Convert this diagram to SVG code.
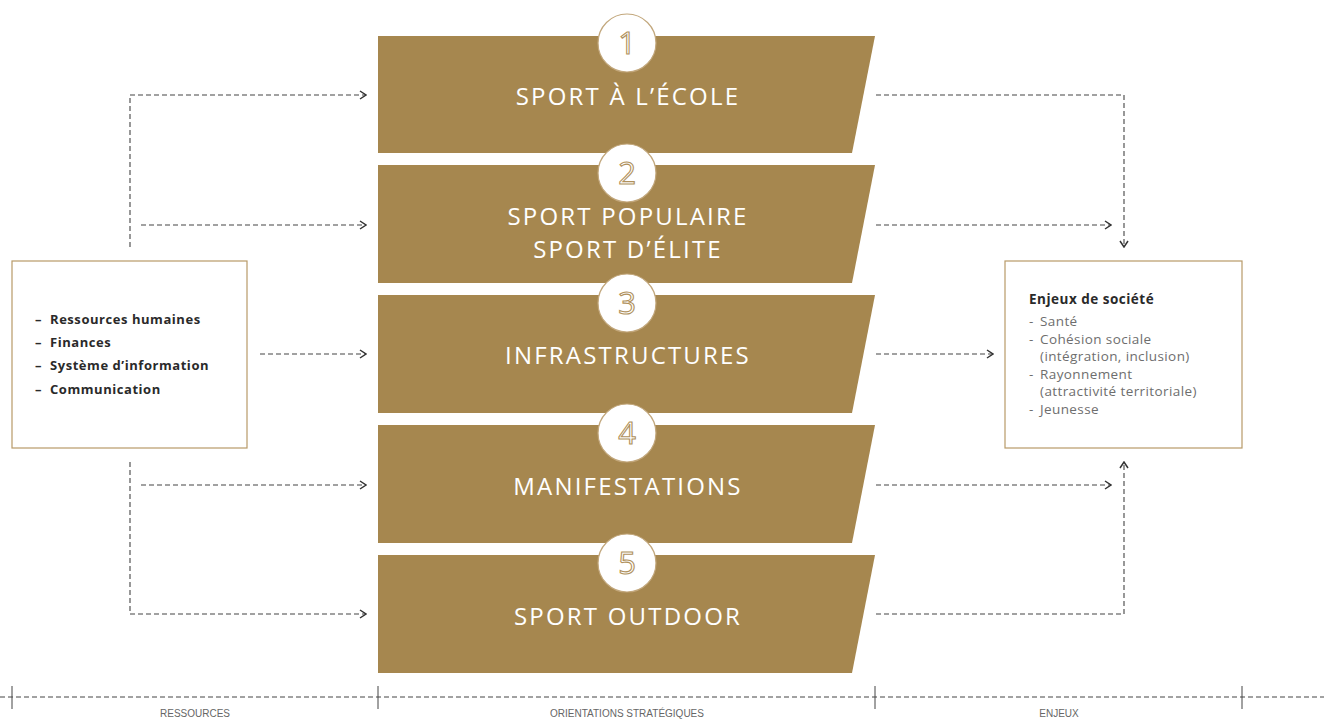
<svg xmlns="http://www.w3.org/2000/svg" width="1324" height="719" viewBox="0 0 1324 719">
<defs>
<style>
.band{fill:#a6874f}
.circ{fill:#fff;stroke:#c2a77c;stroke-width:1.2}
.num{font-family:"Open Sans","Liberation Sans",sans-serif;font-size:31px;fill:#fff;stroke:#b0915c;stroke-width:1.1;text-anchor:middle}
.title{font-family:"Open Sans","Liberation Sans",sans-serif;font-size:24px;fill:#fff;text-anchor:middle;letter-spacing:2.2px}
.box{fill:#fff;stroke:#b89a68;stroke-width:1.2}
.res{font-family:"Open Sans","Liberation Sans",sans-serif;font-size:13px;font-weight:bold;fill:#2a2a2a;letter-spacing:0.55px}
.enh{font-family:"Open Sans","Liberation Sans",sans-serif;font-size:13.5px;font-weight:bold;fill:#2a2a2a;letter-spacing:0.5px}
.en{font-family:"Open Sans","Liberation Sans",sans-serif;font-size:13.5px;fill:#6e6e6e;letter-spacing:0.4px}
.conn{fill:none;stroke:#444;stroke-width:1.1;stroke-dasharray:5 3}
.axis{fill:none;stroke:#444;stroke-width:1;stroke-dasharray:5 3}
.tick{stroke:#444;stroke-width:1}
.lbl{font-family:"Liberation Sans",sans-serif;font-size:10px;fill:#666;text-anchor:middle}
</style>
<marker id="arr" viewBox="0 0 10 10" refX="9" refY="5" markerWidth="10" markerHeight="10" markerUnits="userSpaceOnUse" orient="auto">
<path d="M3,1 L9,5 L3,9" fill="none" stroke="#333" stroke-width="1.5"/>
</marker>
</defs>
<rect width="1324" height="719" fill="#fff"/>

<g id="connectors">
<path class="conn" d="M130,247 V95 H366" marker-end="url(#arr)"/>
<path class="conn" d="M141,225 H366" marker-end="url(#arr)"/>
<path class="conn" d="M260,354 H366" marker-end="url(#arr)"/>
<path class="conn" d="M141,485 H366" marker-end="url(#arr)"/>
<path class="conn" d="M130,462 V614 H366" marker-end="url(#arr)"/>
<path class="conn" d="M876,95 H1124 V247" marker-end="url(#arr)"/>
<path class="conn" d="M876,225 H1111" marker-end="url(#arr)"/>
<path class="conn" d="M876,354 H993" marker-end="url(#arr)"/>
<path class="conn" d="M876,485 H1111" marker-end="url(#arr)"/>
<path class="conn" d="M876,614 H1124 V462" marker-end="url(#arr)"/>
</g>

<g id="node-1">
<polygon class="band" points="378,36 875,36 852,153 378,153"/>
<circle class="circ" cx="627" cy="43" r="29"/>
<text class="num" x="627" y="54">1</text>
<text class="title" x="628" y="105">SPORT À L’ÉCOLE</text>
</g>
<g id="node-2">
<polygon class="band" points="378,165 875,165 852,283 378,283"/>
<circle class="circ" cx="627" cy="173" r="29"/>
<text class="num" x="627" y="184">2</text>
<text class="title" x="628" y="225">SPORT POPULAIRE</text>
<text class="title" x="628" y="258">SPORT D’ÉLITE</text>
</g>
<g id="node-3">
<polygon class="band" points="378,295 875,295 852,413 378,413"/>
<circle class="circ" cx="627" cy="303" r="29"/>
<text class="num" x="627" y="314">3</text>
<text class="title" x="628" y="364">INFRASTRUCTURES</text>
</g>
<g id="node-4">
<polygon class="band" points="378,425 875,425 852,543 378,543"/>
<circle class="circ" cx="627" cy="433" r="29"/>
<text class="num" x="627" y="444">4</text>
<text class="title" x="628" y="495">MANIFESTATIONS</text>
</g>
<g id="node-5">
<polygon class="band" points="378,555 875,555 852,673 378,673"/>
<circle class="circ" cx="627" cy="563" r="29"/>
<text class="num" x="627" y="574">5</text>
<text class="title" x="628" y="625">SPORT OUTDOOR</text>
</g>

<g id="ressources">
<rect class="box" x="12" y="261" width="235" height="187"/>
<text class="res" x="35" y="324">–</text><text class="res" x="50" y="324">Ressources humaines</text>
<text class="res" x="35" y="347">–</text><text class="res" x="50" y="347">Finances</text>
<text class="res" x="35" y="370">–</text><text class="res" x="50" y="370">Système d’information</text>
<text class="res" x="35" y="394">–</text><text class="res" x="50" y="394">Communication</text>
</g>

<g id="enjeux">
<rect class="box" x="1005" y="261" width="237" height="187"/>
<text class="enh" x="1029" y="304">Enjeux de société</text>
<text class="en" x="1029" y="326">-</text><text class="en" x="1040" y="326">Santé</text>
<text class="en" x="1029" y="344">-</text><text class="en" x="1040" y="344">Cohésion sociale</text>
<text class="en" x="1040" y="361">(intégration, inclusion)</text>
<text class="en" x="1029" y="379">-</text><text class="en" x="1040" y="379">Rayonnement</text>
<text class="en" x="1040" y="396">(attractivité territoriale)</text>
<text class="en" x="1029" y="414">-</text><text class="en" x="1040" y="414">Jeunesse</text>
</g>

<g id="axis">
<line class="axis" x1="0" y1="697" x2="1324" y2="697"/>
<line class="tick" x1="12" y1="686" x2="12" y2="709"/>
<line class="tick" x1="378" y1="686" x2="378" y2="709"/>
<line class="tick" x1="875" y1="686" x2="875" y2="709"/>
<line class="tick" x1="1242" y1="686" x2="1242" y2="709"/>
<text class="lbl" x="195" y="717">RESSOURCES</text>
<text class="lbl" x="627" y="717">ORIENTATIONS STRATÉGIQUES</text>
<text class="lbl" x="1059" y="717">ENJEUX</text>
</g>
</svg>
